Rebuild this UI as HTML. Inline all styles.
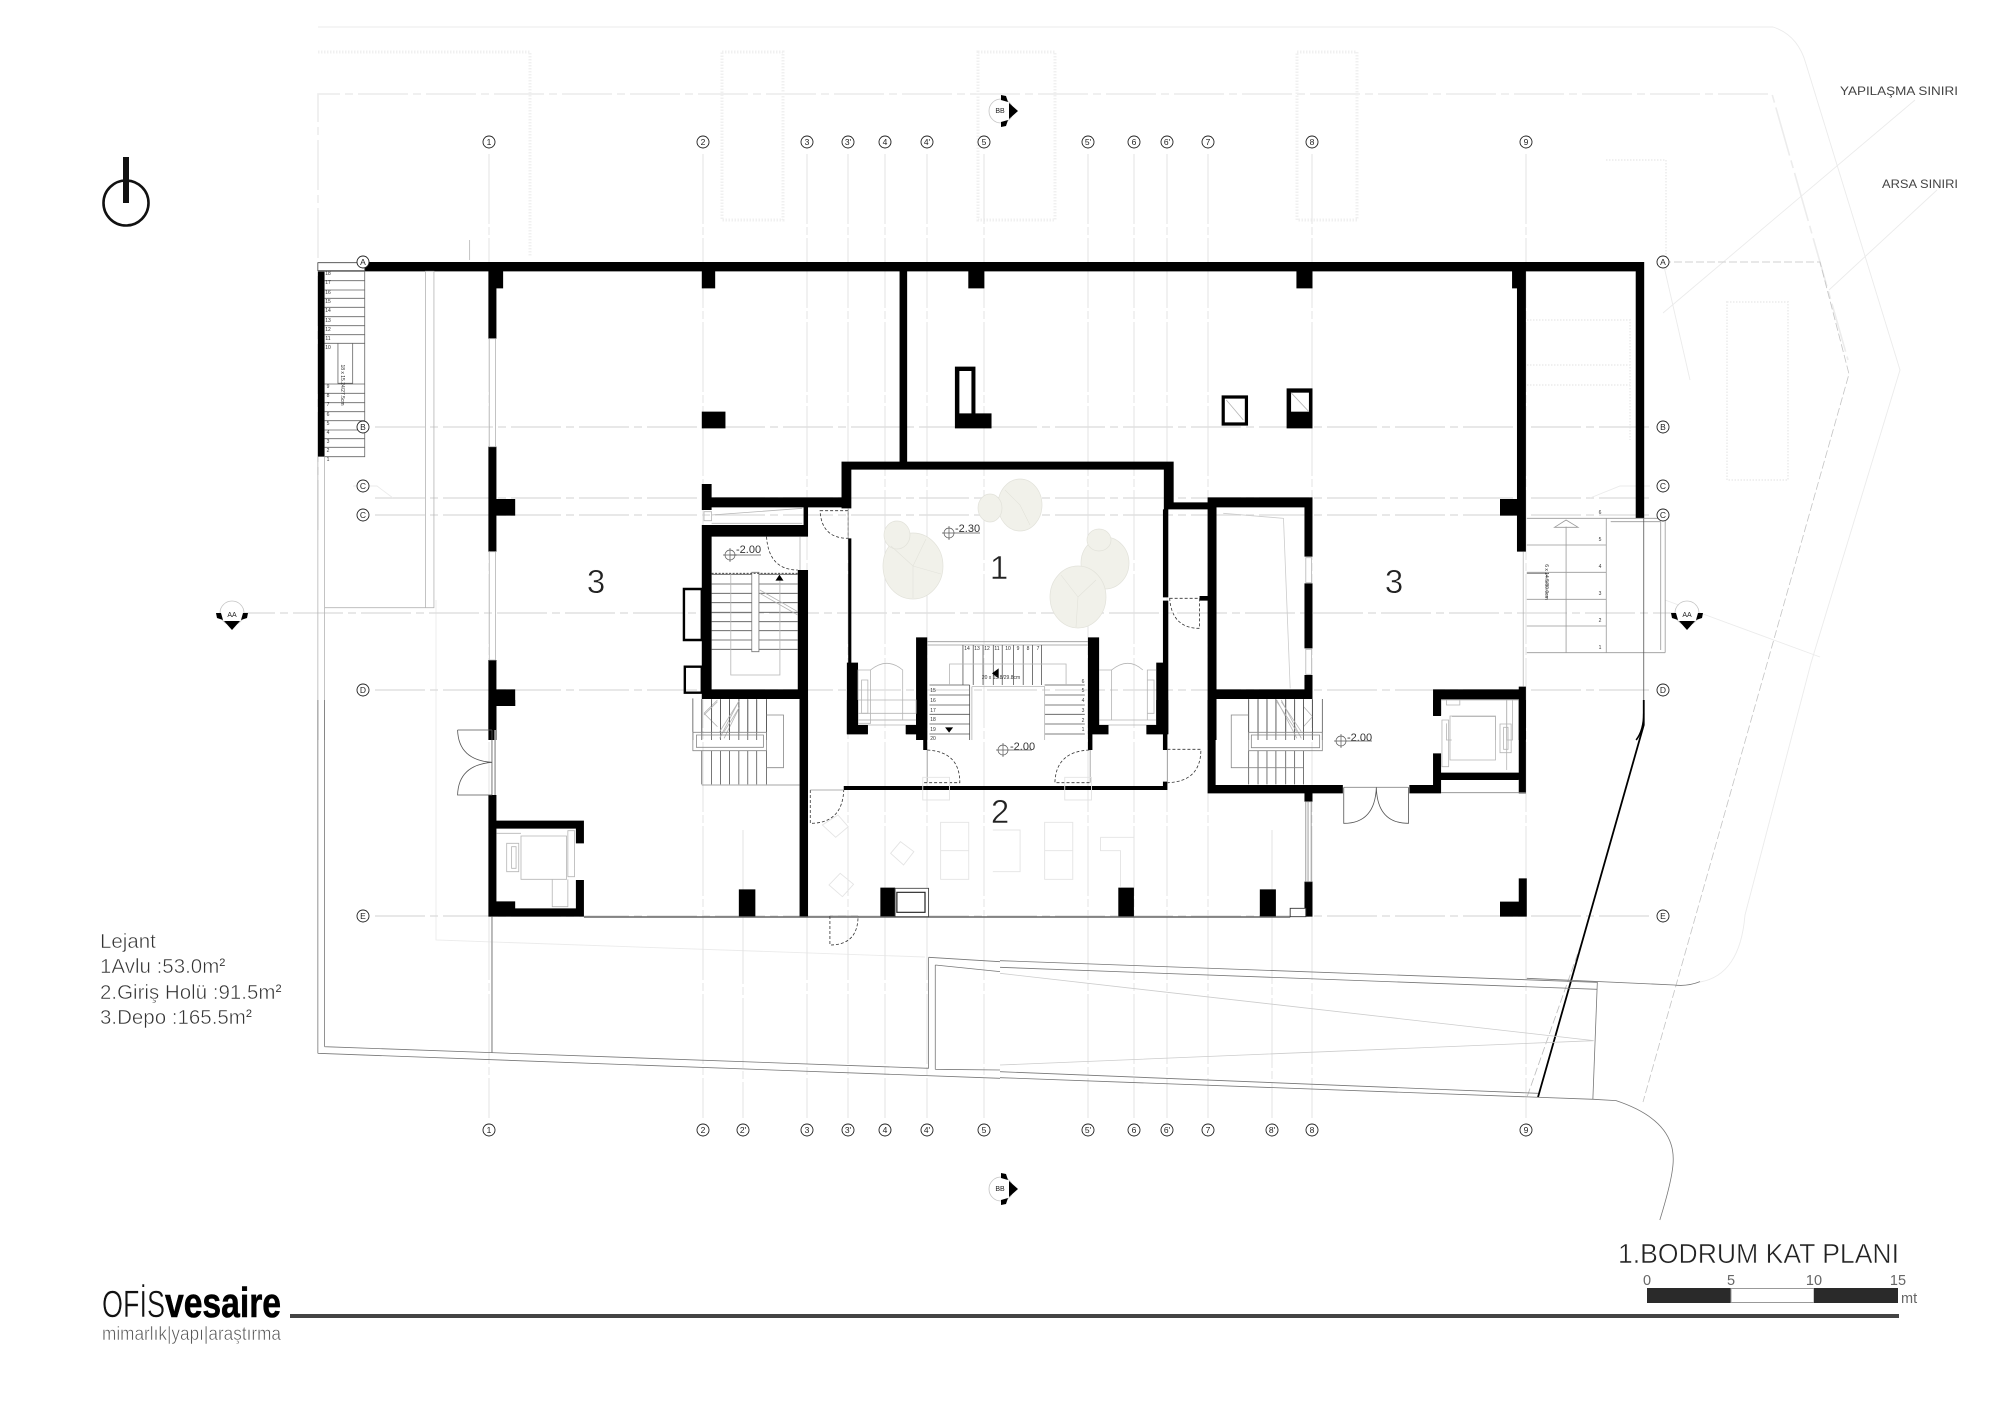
<!DOCTYPE html>
<html><head><meta charset="utf-8"><style>
html,body{margin:0;padding:0;background:#fff}
svg{display:block}
svg *{vector-effect:non-scaling-stroke}
text{font-family:"Liberation Sans",sans-serif}
.k{fill:#000;stroke:none}
.t{fill:none;stroke:#555;stroke-width:.8}
.d{fill:none;stroke:#333;stroke-width:.8;stroke-dasharray:3 2}
.l{fill:none;stroke:#b5b5b5;stroke-width:.8}
.f{fill:none;stroke:#ebebeb;stroke-width:.9}
.gv{fill:none;stroke:#e3e3e3;stroke-width:1;stroke-dasharray:70 3 8 3}
.gh{fill:none;stroke:#e0e0e0;stroke-width:1.4;stroke-dasharray:50 5 8 5}
.dot{fill:none;stroke:#f0f0f0;stroke-width:3;stroke-dasharray:1.5 1.5}
.gl{fill:none;stroke:#aaa;stroke-width:1.6}
.b circle{fill:#fff;stroke:#222;stroke-width:.9}
.b text{font-size:8.5px;text-anchor:middle;fill:#222}
.n text{font-size:5px;fill:#333;text-anchor:middle}
.thin{stroke:#fff;stroke-width:.5}
.sup{stroke:none;font-size:11px}
</style></head><body>
<svg width="2000" height="1414" viewBox="0 0 2000 1414" xmlns="http://www.w3.org/2000/svg">
<rect width="2000" height="1414" fill="#fff"/>

<!-- faint site -->
<path class="f" d="M318 27H1773Q1798 35 1806 64L1900 370L1811 663L1745 915Q1740 975 1700 982"/>
<path class="gh" style="stroke:#ececec;stroke-width:1.6" d="M318 530V94H1772L1848 360"/>
<path class="dot" d="M318 52H530V257M722 52H783V220H722ZM978 52H1055V220H978ZM1297 52H1357V220H1297Z"/>
<path class="dot" style="stroke-width:2" d="M1606 160H1666V270M1727 302H1788V480H1727Z"/>
<path class="dot" style="stroke-width:2" d="M1527 320H1630V440M1527 365H1630M1527 385H1630"/>
<path class="f" d="M1915 100L1663 313M1937 190L1829 290M1663 262L1690 380M1665 600L1820 657"/>
<path d="M1663 262H1820L1849 374L1643 1102" fill="none" stroke="#c4c4c4" stroke-width=".8" stroke-dasharray="8 3"/>
<path d="M1585 933L1527 1097" fill="none" stroke="#bbb" stroke-width=".8" stroke-dasharray="8 3"/>
<path class="f" d="M436 600V940L925 957"/>

<!-- grid -->
<path class="gv" d="M489 154V1118M703 154V1118M743 830V1118M807 154V1118M848 154V1118M885 154V1118M927 154V1118M984 154V1118M1088 154V1118M1134 154V1118M1167 154V1118M1208 154V1118M1272 830V1118M1312 154V1118M1526 154V1118"/>
<path class="gh" d="M375 427H1650M375 498H1650M375 515H1650M225 613H1690M375 690H1650M375 916H1650"/>
<path class="f" d="M353 486H377L393 498M1590 498L1620 486H1650"/>

<!-- trees -->
<g fill="#f1f1ea" stroke="#e2e2da" stroke-width=".7">
<ellipse cx="913" cy="566" rx="30" ry="33"/><ellipse cx="897" cy="535" rx="13" ry="14"/>
<ellipse cx="1020" cy="505" rx="22" ry="26"/><ellipse cx="990" cy="508" rx="12" ry="14"/>
<ellipse cx="1105" cy="563" rx="24" ry="26"/><ellipse cx="1099" cy="540" rx="12" ry="11"/>
<ellipse cx="1078" cy="597" rx="28" ry="31"/>
</g>
<path d="M913 566L891 546M913 566L926 539M913 566L913 598M913 566L941 574M1078 597L1061 575M1078 597L1096 580M1078 597L1076 627M1020 505L1005 490M1020 505L1030 525" stroke="#e2e2da" stroke-width=".6" fill="none"/>

<!-- Z1 top-left -->
<g transform="translate(300,240) scale(.44643,.33333)">
<path class="k" d="M40 94H55V650H40ZM145 66H1568V94H145ZM422 66H455V145H422ZM422 145H440V296H422ZM422 620H440V935H422ZM422 777H482V827H422ZM422 1260H440V1500H422ZM422 1348H482V1398H422ZM900 94H930V145H900ZM900 515H953V565H900ZM1343 94H1360V665H1343ZM1497 94H1533V145H1497ZM1467 380H1477V565H1467ZM1467 380H1513V393H1467ZM1504 380H1513V525H1504ZM1467 520H1549V565H1467ZM1213 665H1568V689H1213ZM1213 665H1235V805H1213ZM1228 895H1235V1270H1228ZM1225 1268H1250V1482H1225ZM1225 1455H1272V1482H1225ZM900 732H922V810H900ZM900 772H1235V802H900ZM1128 802H1138V890H1128ZM900 855H1138V890H900ZM900 855H922V1375H900ZM900 1348H1138V1377H900ZM1115 990H1138V1350H1115ZM1119 1377H1138V1500H1119ZM1380 1192H1405V1500H1380ZM1357 1455H1405V1482H1357Z"/>
<path d="M860 1047H900V1200H860ZM862 1280H900V1358H862Z" fill="none" stroke="#000" stroke-width="2.4"/>
<rect x="40" y="68" width="105" height="24" fill="#fff" stroke="#444" stroke-width=".8"/>
<path class="l" d="M55 94H145V650H55M55 122H145M55 150H145M55 175H145M55 202H145M55 230H145M55 257H145M55 284H145M55 310H145M55 432H145M55 460H145M55 488H145M55 515H145M55 542H145M55 570H145M55 596H145M55 622H145M85 310V430H118V310" style="stroke:#666"/>
<path class="l" d="M281 94H300V1103H281ZM55 1103H281M40 650V1500M55 650V1500M380 0V60"/>
<path class="l" d="M424 296H438V620H424ZM424 935H438V1260H424ZM1120 890V990"/>
<path class="t" d="M922 1003H1115M922 1032H1115M922 1060H1115M922 1088H1115M922 1117H1115M922 1145H1115M922 1172H1115M922 1200H1115M922 1228H1115"/>
<rect x="1012" y="997" width="16" height="238" fill="#fff" stroke="#777" stroke-width=".8"/>
<path class="l" d="M965 1002V1305H1075V1010M1030 1050L1115 1115M1030 1060L1115 1125"/>
<path class="l" d="M905 815H922V842H905ZM922 825L1125 805M922 850H1125"/>
<path class="t" d="M900 1377V1500M922 1377V1500M942 1377V1500M962 1377V1500M983 1377V1500M1003 1377V1500M1023 1377V1500M1045 1377V1500M880 1375V1500"/>
<path class="l" d="M905 1420L935 1380M905 1420L935 1460M940 1495L985 1378M950 1495L985 1400"/>
<path class="d" d="M1165 812H1228V895Q1168 895 1165 812ZM1045 890Q1050 990 1115 990"/>
<path class="d" style="stroke-dasharray:2 1.5" d="M922 1000H1115"/>
<path class="l" style="stroke:#999" d="M1228 805V895"/>
<path class="l" d="M1250 1290H1278V1450H1250ZM1258 1320H1272V1420H1258ZM1278 1290Q1315 1250 1350 1290V1440H1278M1250 1440H1380M1250 1455H1380"/>
<path class="l" style="stroke:#999" d="M1405 1205H1568M1405 1215H1568"/>
<path class="t" d="M1485 1215V1335M1508 1215V1335M1530 1215V1335M1553 1215V1335M1410 1335H1500M1410 1365H1500M1410 1395H1500M1410 1423H1500M1410 1452H1500M1410 1482H1500M1500 1335V1500"/>
<path class="l" d="M1455 1335V1272H1568M1505 1340H1568M1505 1340V1500"/>
<path d="M1065 1022H1083L1074 1004ZM1445 1462H1463L1454 1478ZM1565 1285V1315L1550 1300Z" class="k"/>
</g>

<!-- Z2 top-right -->
<g transform="translate(1000,240) scale(.44643,.33333)">
<path class="k" d="M0 66H1443V94H0ZM1424 66H1443V835H1424ZM664 94H700V145H664ZM1147 94H1178V145H1147ZM1158 94H1178V935H1158ZM1120 777H1178V827H1120ZM642 445H700V565H642ZM0 665H389V689H0ZM367 665H389V808H367ZM367 787H465V808H367ZM365 808H377V1072H365ZM365 1082H377V1270H365ZM350 1268H377V1482H350ZM328 1455H377V1482H328ZM447 1068H465V1082H447ZM465 772H700V802H465ZM465 772H485V1500H465ZM682 802H700V950H682ZM682 1030H700V1225H682ZM682 1305H700V1350H682ZM465 1348H700V1377H465ZM197 1192H222V1482H197ZM197 1455H243V1482H197ZM970 1348H1178V1378H970ZM970 1348H988V1428H970ZM1162 1340H1178V1500H1162Z"/>
<rect x="500" y="471" width="52" height="81" fill="#fff" stroke="#000" stroke-width="3.2"/>
<rect x="652" y="458" width="40" height="57" fill="#fff"/>
<path class="l" d="M652 458L692 515M507 480L545 540"/>
<path class="l" d="M685 953H698V1028H685ZM685 1228H698V1303H685ZM1172 935V1340"/>
<path class="l" style="stroke:#ccc" d="M500 820L635 835L650 1345"/>
<path class="t" style="stroke:#999" d="M1180 835H1358M1180 915H1358M1180 997H1358M1180 1078H1358M1180 1158H1358M1180 1238H1490M1358 835V1238M1268 860V1238M1242 862H1295L1268 840ZM1358 835H1490V1238M1368 845H1480V1230"/>
<path class="t" style="stroke:#777" d="M1180 1000H1225V1075"/>
<path class="t" d="M1442 835V1420"/>
<path d="M1442 1420Q1442 1470 1425 1500" fill="none" stroke="#000" stroke-width="1.6"/>
<path class="l" style="stroke:#999" d="M0 1205H197M0 1215H197"/>
<path class="t" d="M5 1215V1335M30 1215V1335M52 1215V1335M73 1215V1335M93 1215V1335M100 1335H190M100 1365H190M100 1395H190M100 1423H190M100 1452H190M100 1482H190"/>
<path class="l" d="M148 1335V1272H0M0 1340H100V1500"/>
<path class="l" d="M222 1290H250M350 1290H330V1440H250V1290Q287 1250 320 1290M330 1320H345V1420H330M222 1440H350M222 1455H350"/>
<path class="d" d="M380 1075H447V1165Q385 1165 380 1075Z"/>
<path class="t" d="M557 1377V1500M578 1377V1500M598 1377V1500M618 1377V1500M640 1377V1500M660 1377V1500M680 1377V1500M700 1377V1500M722 1377V1500"/>
<path class="l" d="M620 1380L665 1495M630 1380L675 1495M680 1400L700 1430M680 1460L700 1430"/>
<path class="l" d="M988 1380H1162M1000 1380H1030V1395H1000ZM1135 1380H1148V1500H1135ZM1000 1450V1500H1012M1012 1430H1110V1500"/>
</g>

<!-- Z3 bottom-left -->
<g transform="translate(300,700) scale(.44643,.33333)">
<path class="k" d="M422 0H440V88H422ZM422 285H440V650H422ZM422 0H482V18H422ZM440 362H636V386H440ZM618 386H636V430H618ZM618 540H636V650H618ZM422 625H636V650H422ZM440 604H482V625H440ZM983 568H1020V650H983ZM1119 0H1138V650H1119ZM1300 563H1333V650H1300ZM1225 0H1250V103H1225ZM1225 75H1272V103H1225ZM1380 0H1405V103H1380ZM1357 75H1405V103H1357ZM1396 103H1405V150H1396ZM1218 258H1568V270H1218Z"/>
<path class="t" d="M353 90H430M353 90Q355 180 430 187Q355 195 353 285H430M430 90V285"/>
<path class="gl" d="M437 90V285M430 650V1058"/>
<path d="M636 651H1568" fill="none" stroke="#666" stroke-width="1.4"/>
<path class="t" d="M40 1060L1568 1135M55 1040L1408 1105M1408 772V1105M1423 795V1108M1408 772L1568 785M1423 795L1568 815M40 0V1060M55 0V1040M1568 1110L1423 1108" style="stroke:#777"/>
<rect x="1333" y="565" width="75" height="85" fill="#fff" stroke="#444" stroke-width=".9"/>
<rect x="1337" y="577" width="63" height="60" fill="#fff" stroke="#222" stroke-width="1.2"/>
<path class="t" d="M900 0V97M922 0V97M942 0V97M962 0V97M983 0V97M1003 0V97M1023 0V97M1045 0V97M900 152V253M922 152V253M942 152V253M962 152V253M983 152V253M1003 152V253M1023 152V253M1045 152V253"/>
<path class="l" style="stroke:#888" d="M880 97H1045V152H880ZM888 105H1038V142H888ZM1045 45H1083V203H1045M900 255H1119"/>
<path class="l" d="M905 45L935 5M940 95L985 0M950 95L985 20"/>
<path class="l" d="M495 408H597V538H495ZM463 430H490V515H463ZM474 440H484V505H474ZM600 392H615V530H600ZM565 538V620H600V538M440 400H495"/>
<path class="l" d="M1250 0H1380V40H1250M1250 60H1380"/>
<path class="d" d="M1143 270V370Q1215 370 1218 270M1187 648V735Q1250 735 1250 648M1405 150Q1478 155 1478 248H1398"/>
<path class="l" style="stroke:#999" d="M1143 270H1218M1405 150V248M1187 648H1250"/>
<path class="f" style="stroke:#e4e4e4" d="M1170 375L1205 345L1228 380L1200 412ZM1323 460L1345 425L1375 455L1352 495ZM1185 555L1210 520L1240 553L1215 590ZM1435 367H1498V538H1435ZM1435 452H1498M1552 390H1568M1552 515H1568M1395 232H1455V300H1395Z"/>
</g>

<!-- Z4 bottom-right -->
<g transform="translate(1000,700) scale(.44643,.33333)">
<path class="k" d="M197 0H222V103H197ZM197 75H243V103H197ZM350 0H377V103H350ZM328 75H377V103H328ZM197 103H207V150H197ZM365 103H375V150H365ZM0 258H375V270H0ZM365 245H375V270H365ZM465 0H483V280H465ZM465 255H768V280H465ZM682 280H700V305H682ZM682 545H700V650H682ZM917 255H988V280H917ZM970 0H988V45H970ZM970 160H988V280H970ZM988 218H1162V240H988ZM1162 0H1178V280H1162ZM265 563H300V650H265ZM582 568H618V650H582ZM1162 535H1180V650H1162ZM1120 605H1180V650H1120Z"/>
<path d="M0 651H650" fill="none" stroke="#666" stroke-width="1.4"/>
<rect x="650" y="625" width="35" height="25" fill="#fff" stroke="#333" stroke-width=".9"/>
<path class="l" style="stroke:#888" d="M685 305H697V545H685ZM690 305V545M988 278H1178M770 262H915"/>
<path class="t" d="M770 262V370Q840 370 843 262Q845 370 915 370V262"/>
<path d="M1442 0V75L1205 1192" fill="none" stroke="#000" stroke-width="1.8"/>
<path class="t" style="stroke:#777" d="M0 782L1338 847L1328 1198M0 802L1338 868M0 1115L1205 1180M0 1133L1330 1198L1380 1202Q1510 1260 1508 1380Q1508 1430 1478 1560M1180 835L1510 855Q1540 860 1568 845"/>
<path class="l" style="stroke:#ccc" d="M0 820L1330 1022L0 1095"/>
<path class="t" d="M557 0V97M578 0V97M598 0V97M618 0V97M640 0V97M660 0V97M680 0V97M700 0V97M557 152V253M578 152V253M598 152V253M618 152V253M640 152V253M660 152V253M680 152V253"/>
<path class="l" style="stroke:#888" d="M557 97H722V152H557ZM563 105H716V143H563ZM557 45H518V203H680"/>
<path class="l" d="M620 5L665 95M630 5L675 95"/>
<path class="l" d="M1008 48H1110V180H1008ZM1120 72H1145V158H1120ZM1128 82H1138V148H1128ZM990 60H1005V200H990ZM1135 0V210"/>
<path class="d" d="M200 150Q125 155 123 248H205M375 148H450Q450 245 375 248"/>
<path class="l" style="stroke:#999" d="M202 150V248M375 148V248"/>
<path class="f" style="stroke:#e4e4e4" d="M0 390H45V515H0M100 367H163V538H100ZM100 452H163M225 412H300V560M225 412V452H270V560M145 232H205V300H145Z"/>
</g>

<!-- stair numbers -->
<g class="n">
<text x="328" y="275">18</text><text x="328" y="284">17</text><text x="328" y="294">16</text><text x="328" y="303">15</text><text x="328" y="312">14</text><text x="328" y="322">13</text><text x="328" y="331">12</text><text x="328" y="340">11</text><text x="328" y="349">10</text>
<text x="328" y="388">9</text><text x="328" y="397">8</text><text x="328" y="406">7</text><text x="328" y="416">6</text><text x="328" y="425">5</text><text x="328" y="434">4</text><text x="328" y="443">3</text><text x="328" y="452">2</text><text x="328" y="461">1</text>
<text x="1600" y="514">6</text><text x="1600" y="541">5</text><text x="1600" y="568">4</text><text x="1600" y="595">3</text><text x="1600" y="622">2</text><text x="1600" y="649">1</text>
<text x="967" y="650">14</text><text x="977" y="650">13</text><text x="987" y="650">12</text><text x="997" y="650">11</text><text x="1008" y="650">10</text><text x="1018" y="650">9</text><text x="1028" y="650">8</text><text x="1038" y="650">7</text>
<text x="933" y="692">15</text><text x="933" y="702">16</text><text x="933" y="712">17</text><text x="933" y="721">18</text><text x="933" y="731">19</text><text x="933" y="740">20</text>
<text x="1083" y="683">6</text><text x="1083" y="692">5</text><text x="1083" y="702">4</text><text x="1083" y="712">3</text><text x="1083" y="722">2</text><text x="1083" y="731">1</text>
<text x="1001" y="679">20 x 15.8/29.8cm</text>
<text transform="translate(341,385) rotate(90)">18 x 15.24/27.5cm</text>
<text transform="translate(1545,582) rotate(90)">6 x 14.5/80.0cm</text>
</g>

<!-- elevations -->
<g font-size="11" fill="#333">
<text x="736" y="553">-2.00</text><text x="955" y="532">-2.30</text><text x="1347" y="741">-2.00</text><text x="1010" y="750">-2.00</text>
</g>
<g fill="none" stroke="#555" stroke-width=".7">
<path d="M730 555H761M730 555"/><circle cx="730" cy="555" r="5"/><path d="M730 548V562M723 555H737"/>
<circle cx="949" cy="533" r="5"/><path d="M949 526V540M942 533H980"/>
<circle cx="1341" cy="741" r="5"/><path d="M1341 734V748M1334 741H1372"/>
<circle cx="1003" cy="750" r="5"/><path d="M1003 743V757M996 750H1032"/>
</g>

<!-- bubbles -->
<g class="b">
<circle cx="489" cy="142" r="6"/><text x="489" y="145">1</text>
<circle cx="703" cy="142" r="6"/><text x="703" y="145">2</text>
<circle cx="807" cy="142" r="6"/><text x="807" y="145">3</text>
<circle cx="848" cy="142" r="6"/><text x="848" y="145">3'</text>
<circle cx="885" cy="142" r="6"/><text x="885" y="145">4</text>
<circle cx="927" cy="142" r="6"/><text x="927" y="145">4'</text>
<circle cx="984" cy="142" r="6"/><text x="984" y="145">5</text>
<circle cx="1088" cy="142" r="6"/><text x="1088" y="145">5'</text>
<circle cx="1134" cy="142" r="6"/><text x="1134" y="145">6</text>
<circle cx="1167" cy="142" r="6"/><text x="1167" y="145">6'</text>
<circle cx="1208" cy="142" r="6"/><text x="1208" y="145">7</text>
<circle cx="1312" cy="142" r="6"/><text x="1312" y="145">8</text>
<circle cx="1526" cy="142" r="6"/><text x="1526" y="145">9</text>
<circle cx="489" cy="1130" r="6"/><text x="489" y="1133">1</text>
<circle cx="703" cy="1130" r="6"/><text x="703" y="1133">2</text>
<circle cx="743" cy="1130" r="6"/><text x="743" y="1133">2'</text>
<circle cx="807" cy="1130" r="6"/><text x="807" y="1133">3</text>
<circle cx="848" cy="1130" r="6"/><text x="848" y="1133">3'</text>
<circle cx="885" cy="1130" r="6"/><text x="885" y="1133">4</text>
<circle cx="927" cy="1130" r="6"/><text x="927" y="1133">4'</text>
<circle cx="984" cy="1130" r="6"/><text x="984" y="1133">5</text>
<circle cx="1088" cy="1130" r="6"/><text x="1088" y="1133">5'</text>
<circle cx="1134" cy="1130" r="6"/><text x="1134" y="1133">6</text>
<circle cx="1167" cy="1130" r="6"/><text x="1167" y="1133">6'</text>
<circle cx="1208" cy="1130" r="6"/><text x="1208" y="1133">7</text>
<circle cx="1272" cy="1130" r="6"/><text x="1272" y="1133">8'</text>
<circle cx="1312" cy="1130" r="6"/><text x="1312" y="1133">8</text>
<circle cx="1526" cy="1130" r="6"/><text x="1526" y="1133">9</text>
<circle cx="363" cy="262" r="6"/><text x="363" y="265">A</text>
<circle cx="363" cy="427" r="6"/><text x="363" y="430">B</text>
<circle cx="363" cy="486" r="6"/><text x="363" y="489">C</text>
<circle cx="363" cy="515" r="6"/><text x="363" y="518">C</text>
<circle cx="363" cy="690" r="6"/><text x="363" y="693">D</text>
<circle cx="363" cy="916" r="6"/><text x="363" y="919">E</text>
<circle cx="1663" cy="262" r="6"/><text x="1663" y="265">A</text>
<circle cx="1663" cy="427" r="6"/><text x="1663" y="430">B</text>
<circle cx="1663" cy="486" r="6"/><text x="1663" y="489">C</text>
<circle cx="1663" cy="515" r="6"/><text x="1663" y="518">C</text>
<circle cx="1663" cy="690" r="6"/><text x="1663" y="693">D</text>
<circle cx="1663" cy="916" r="6"/><text x="1663" y="919">E</text>
</g>

<!-- section marks -->
<g fill="#fff" stroke="#c4c4c4" stroke-width=".8">
<circle cx="232" cy="613" r="12"/><circle cx="1687" cy="613" r="12"/>
<circle cx="1001" cy="111" r="12"/><circle cx="1001" cy="1189" r="12"/>
</g>
<path class="k" d="M216 613H221L223 620L217 618ZM243 613H248L247 618L241 620ZM224 621L240 621L232 630ZM1671 613H1676L1678 620L1672 618ZM1698 613H1703L1702 618L1696 620ZM1679 621L1695 621L1687 630ZM1001 95V100L1008 102L1006 96ZM1001 127V122L1008 120L1006 126ZM1009 103V119L1018 111ZM1001 1173V1178L1008 1180L1006 1174ZM1001 1205V1200L1008 1198L1006 1204ZM1009 1181V1197L1018 1189Z"/>
<g font-size="7" fill="#222" text-anchor="middle">
<text x="232" y="617">AA</text><text x="1687" y="617">AA</text><text x="1000" y="113">BB</text><text x="1000" y="1191">BB</text>
</g>

<!-- room numbers -->
<g font-size="33" fill="#222" text-anchor="middle" class="thin">
<text x="596" y="593">3</text><text x="1394" y="593">3</text><text x="999" y="579">1</text><text x="1000" y="823">2</text>
</g>

<!-- labels -->
<text x="1840" y="95" font-size="12" fill="#444" textLength="118" lengthAdjust="spacingAndGlyphs">YAPILAŞMA SINIRI</text>
<text x="1882" y="188" font-size="12" fill="#444" textLength="76" lengthAdjust="spacingAndGlyphs">ARSA SINIRI</text>

<!-- compass -->
<circle cx="126" cy="203" r="22.5" fill="none" stroke="#111" stroke-width="2.6"/>
<rect x="123" y="157" width="6" height="46" fill="#111"/>

<!-- legend -->
<g font-size="20.5" fill="#333" class="thin">
<text x="100" y="948">Lejant</text>
<text x="100" y="973">1Avlu :53.0m<tspan class="sup" dy="-7">2</tspan></text>
<text x="100" y="999">2.Giriş Holü :91.5m<tspan class="sup" dy="-7">2</tspan></text>
<text x="100" y="1024">3.Depo :165.5m<tspan class="sup" dy="-7">2</tspan></text>
</g>

<!-- logo -->
<text x="102" y="1317" font-size="38" fill="#111" textLength="63" lengthAdjust="spacingAndGlyphs" class="thin">OFİS</text>
<text x="165" y="1317" font-size="42" font-weight="bold" fill="#000" stroke="#000" stroke-width=".6" textLength="116" lengthAdjust="spacingAndGlyphs">vesaire</text>
<text x="102" y="1340" font-size="19" fill="#555" textLength="179" lengthAdjust="spacingAndGlyphs" class="thin">mimarlık|yapı|araştırma</text>
<rect x="290" y="1314" width="1609" height="4" fill="#444"/>

<!-- title + scale -->
<text x="1618" y="1263" font-size="28" fill="#222" textLength="281" lengthAdjust="spacingAndGlyphs" class="thin">1.BODRUM KAT PLANI</text>
<rect x="1647" y="1288" width="84" height="15" fill="#2a2a2a"/>
<rect x="1731" y="1288.5" width="83" height="14" fill="#fff" stroke="#999"/>
<rect x="1814" y="1288" width="84" height="15" fill="#2a2a2a"/>
<g font-size="14.5" fill="#666" text-anchor="middle">
<text x="1647" y="1285">0</text><text x="1731" y="1285">5</text><text x="1814" y="1285">10</text><text x="1898" y="1285">15</text>
</g>
<text x="1901" y="1303" font-size="14.5" fill="#666">mt</text>
</svg>
</body></html>
